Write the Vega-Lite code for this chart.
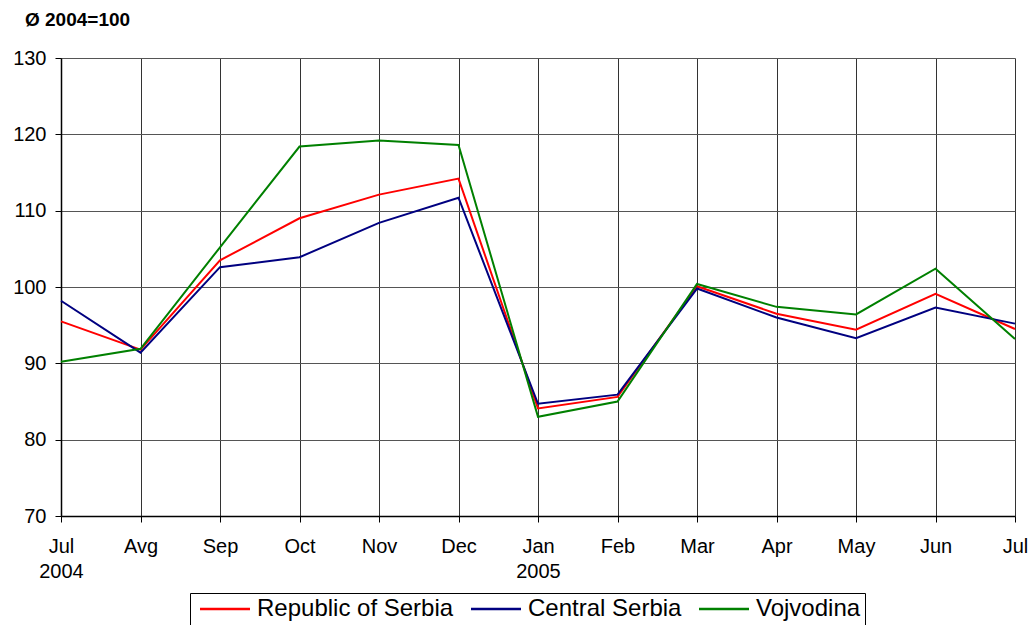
{
  "$schema": "https://vega.github.io/schema/vega-lite/v6.json",
  "width": 954,
  "height": 458,
  "autosize": "none",
  "padding": {"left": 61, "top": 58, "right": 16, "bottom": 109},
  "background": "white",
  "title": {"text": "Ø 2004=100", "anchor": "start", "frame": "group", "dx": -36, "offset": 18, "fontSize": 19, "fontWeight": "bold", "font": "Liberation Sans", "color": "black"},
  "config": {
    "view": {"stroke": null},
    "font": "Liberation Sans"
  },
  "data": {"values": [
    {"m": "Jul 2004", "s": "Republic of Serbia", "v": 95.5},
    {"m": "Avg", "s": "Republic of Serbia", "v": 91.8},
    {"m": "Sep", "s": "Republic of Serbia", "v": 103.5},
    {"m": "Oct", "s": "Republic of Serbia", "v": 109.0},
    {"m": "Nov", "s": "Republic of Serbia", "v": 112.1},
    {"m": "Dec", "s": "Republic of Serbia", "v": 114.2},
    {"m": "Jan 2005", "s": "Republic of Serbia", "v": 84.1},
    {"m": "Feb", "s": "Republic of Serbia", "v": 85.6},
    {"m": "Mar", "s": "Republic of Serbia", "v": 100.1},
    {"m": "Apr", "s": "Republic of Serbia", "v": 96.5},
    {"m": "May", "s": "Republic of Serbia", "v": 94.4},
    {"m": "Jun", "s": "Republic of Serbia", "v": 99.1},
    {"m": "Jul", "s": "Republic of Serbia", "v": 94.5},
    {"m": "Jul 2004", "s": "Central Serbia", "v": 98.2},
    {"m": "Avg", "s": "Central Serbia", "v": 91.4},
    {"m": "Sep", "s": "Central Serbia", "v": 102.6},
    {"m": "Oct", "s": "Central Serbia", "v": 103.9},
    {"m": "Nov", "s": "Central Serbia", "v": 108.4},
    {"m": "Dec", "s": "Central Serbia", "v": 111.7},
    {"m": "Jan 2005", "s": "Central Serbia", "v": 84.7},
    {"m": "Feb", "s": "Central Serbia", "v": 85.9},
    {"m": "Mar", "s": "Central Serbia", "v": 99.8},
    {"m": "Apr", "s": "Central Serbia", "v": 96.0},
    {"m": "May", "s": "Central Serbia", "v": 93.3},
    {"m": "Jun", "s": "Central Serbia", "v": 97.3},
    {"m": "Jul", "s": "Central Serbia", "v": 95.2},
    {"m": "Jul 2004", "s": "Vojvodina", "v": 90.2},
    {"m": "Avg", "s": "Vojvodina", "v": 91.9},
    {"m": "Sep", "s": "Vojvodina", "v": 105.2},
    {"m": "Oct", "s": "Vojvodina", "v": 118.4},
    {"m": "Nov", "s": "Vojvodina", "v": 119.2},
    {"m": "Dec", "s": "Vojvodina", "v": 118.6},
    {"m": "Jan 2005", "s": "Vojvodina", "v": 83.0},
    {"m": "Feb", "s": "Vojvodina", "v": 85.0},
    {"m": "Mar", "s": "Vojvodina", "v": 100.4},
    {"m": "Apr", "s": "Vojvodina", "v": 97.4},
    {"m": "May", "s": "Vojvodina", "v": 96.4},
    {"m": "Jun", "s": "Vojvodina", "v": 102.4},
    {"m": "Jul", "s": "Vojvodina", "v": 93.2}
  ]},
  "mark": {"type": "line", "strokeWidth": 2},
  "encoding": {
    "x": {
      "field": "m", "type": "ordinal",
      "sort": ["Jul 2004", "Avg", "Sep", "Oct", "Nov", "Dec", "Jan 2005", "Feb", "Mar", "Apr", "May", "Jun", "Jul"],
      "scale": {"type": "point", "padding": 0},
      "axis": {
        "title": null, "labelAngle": 0, "labelExpr": "split(datum.label, ' ')",
        "labelFontSize": 20, "labelColor": "black", "labelPadding": 14, "labelLineHeight": 25,
        "domainColor": "black", "domainWidth": 1.5, "tickColor": "black", "tickSize": 6,
        "grid": true, "gridColor": "#333333", "gridWidth": 1
      }
    },
    "y": {
      "field": "v", "type": "quantitative",
      "scale": {"domain": [70, 130], "nice": false, "zero": false},
      "axis": {
        "title": null, "values": [70, 80, 90, 100, 110, 120, 130],
        "labelFontSize": 20, "labelColor": "black", "labelPadding": 9,
        "domainColor": "black", "domainWidth": 1.5, "tickColor": "black", "tickSize": 6,
        "grid": true, "gridColor": "#555555", "gridWidth": 1
      }
    },
    "color": {
      "field": "s", "type": "nominal",
      "scale": {"domain": ["Republic of Serbia", "Central Serbia", "Vojvodina"], "range": ["#ff0000", "#000080", "#008000"]},
      "legend": {
        "title": null, "orient": "none", "legendX": 129, "legendY": 535, "direction": "horizontal",
        "symbolType": "M-0.6,0H4.4", "symbolSize": 400, "symbolStrokeWidth": 2.5,
        "labelFontSize": 24, "labelColor": "black", "labelOffset": 39, "labelLimit": 400,
        "strokeColor": "black", "padding": 4, "columnPadding": 11, "fillColor": "white"
      }
    }
  }
}
